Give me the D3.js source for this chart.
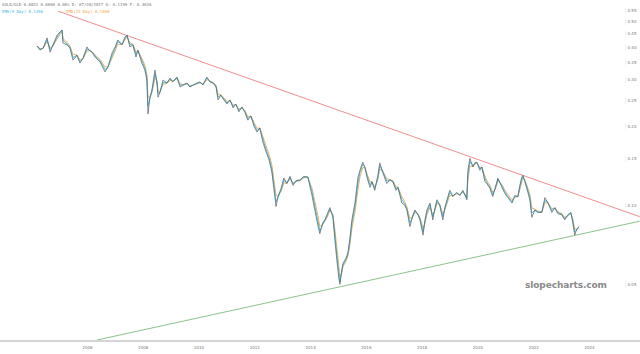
<!DOCTYPE html>
<html>
<head>
<meta charset="utf-8">
<script src="https://cdn.jsdelivr.net/npm/d3@7"></script>
<style>
  body { margin: 0; background: #fff; }
  svg { display: block; }
</style>
</head>
<body>
<div id="chart"></div>
<script>
// GOLD/GLD ratio (decimal year, ratio)
var years = [2004.19,2004.30,2004.41,2004.55,2004.66,2004.76,2004.91,2005.01,2005.09,2005.12,2005.27,2005.37,2005.48,2005.62,2005.73,2005.84,2005.98,
  2006.05,2006.16,2006.27,2006.45,2006.63,2006.73,2006.88,2006.99,2007.09,2007.24,2007.34,2007.42,2007.52,2007.63,2007.74,2007.81,2007.95,
  2008.06,2008.13,2008.17,2008.24,2008.31,2008.42,2008.49,2008.53,2008.60,2008.71,2008.85,2008.96,2009.06,2009.21,2009.32,2009.42,2009.57,2009.67,2009.78,2009.92,
  2010.03,2010.14,2010.28,2010.39,2010.50,2010.61,2010.68,2010.78,2010.89,2011.00,2011.11,2011.22,2011.32,2011.43,2011.54,2011.65,2011.75,2011.86,2011.97,
  2012.08,2012.18,2012.29,2012.40,2012.51,2012.61,2012.68,2012.76,2012.83,2012.94,2013.04,2013.15,2013.26,2013.37,2013.47,2013.62,2013.76,2013.90,
  2014.05,2014.15,2014.26,2014.33,2014.44,2014.51,2014.62,2014.69,2014.80,2014.87,2014.94,2015.01,2015.05,2015.12,2015.16,2015.27,2015.34,2015.41,2015.48,2015.59,2015.70,2015.77,2015.87,2015.95,
  2016.02,2016.13,2016.20,2016.30,2016.41,2016.48,2016.59,2016.73,2016.84,2016.95,2017.06,2017.13,2017.27,2017.38,2017.45,2017.56,2017.67,2017.74,2017.85,2017.92,
  2018.03,2018.10,2018.17,2018.28,2018.38,2018.46,2018.53,2018.63,2018.74,2018.81,2018.89,2018.99,2019.10,2019.24,2019.35,2019.46,2019.57,2019.60,2019.64,2019.71,2019.82,2019.89,2019.96,
  2020.07,2020.14,2020.25,2020.32,2020.43,2020.53,2020.61,2020.68,2020.71,2020.86,2020.96,2021.07,2021.22,2021.32,2021.43,2021.50,2021.57,2021.61,2021.68,2021.75,2021.86,2021.93,
  2022.04,2022.15,2022.29,2022.40,2022.51,2022.65,2022.76,2022.86,2023.01,2023.11,2023.22,2023.33,2023.40,2023.47,2023.54,2023.62];
var ratio = [.404,.390,.397,.434,.383,.408,.445,.457,.465,.415,.408,.397,.357,.373,.348,.364,.401,
  .390,.383,.367,.351,.322,.336,.380,.401,.426,.408,.437,.445,.401,.408,.367,.390,.348,
  .327,.300,.223,.258,.275,.327,.292,.258,.270,.300,.292,.305,.295,.308,.282,.287,.292,.282,.287,.292,
  .295,.287,.308,.295,.292,.282,.252,.263,.252,.243,.252,.235,.243,.227,.237,.225,.211,.219,.200,
  .190,.197,.174,.160,.149,.134,.116,.099,.108,.116,.127,.121,.129,.119,.124,.125,.129,.128,
  .109,.096,.084,.078,.086,.088,.094,.098,.090,.074,.062,.053,.050,.057,.060,.063,.066,.075,.088,.102,.128,.136,.146,.139,
  .128,.117,.123,.114,.130,.145,.133,.121,.125,.123,.114,.117,.102,.100,.096,.083,.092,.096,.092,.088,
  .077,.088,.096,.102,.088,.098,.105,.100,.088,.098,.105,.114,.108,.112,.109,.114,.107,.105,.136,.151,.140,.145,.146,
  .136,.140,.123,.121,.116,.108,.116,.123,.127,.117,.111,.107,.102,.109,.108,.119,.128,.130,.123,.116,.105,.090,
  .096,.094,.094,.107,.102,.094,.098,.093,.092,.088,.092,.094,.086,.077,.081,.083];

// trendlines: [start year, start ratio], [end year, end ratio]
var upperTrend = [[2004.94, 0.549], [2025.80, 0.0905]];
var lowerTrend = [[2006.34, 0.0307], [2025.80, 0.0870]];

var yTicks = [0.55, 0.50, 0.45, 0.40, 0.35, 0.30, 0.25, 0.20, 0.15, 0.10, 0.05];
var xTicks = [2006, 2008, 2010, 2012, 2014, 2016, 2018, 2020, 2022, 2024];

var headerLine = "GOLD/GLD 0.0822 0.0000 0.00% D: 07/20/2017 O: 0.1199 F: 0.4026";
var ema9Label = "EMA(9 Day) 0.1296";
var ema21Label = "EMA(21 Day) 0.1300";

function toDate(y) {
    var yr = Math.floor(y);
    var start = new Date(yr, 0, 1), end = new Date(yr + 1, 0, 1);
    return new Date(start.getTime() + (y - yr) * (end - start));
}

// simple per-sample exponential smoothing for the two EMA overlays
function ema(vals, a) {
    var out = [], prev = vals[0];
    vals.forEach(function(v) { prev = a * v + (1 - a) * prev; out.push(prev); });
    return out;
}

function init() {
    var w = 640, h = 354;
    var plotBottom = 340;

    var svg = d3.select("#chart").append("svg")
        .attr("width", w).attr("height", h);

    var x = d3.scaleTime()
        .domain([toDate(2006), toDate(2024)])
        .range([87.5, 589.5]);

    var y = d3.scaleLog()
        .domain([0.0307, 0.605])
        .range([plotBottom, 0]);

    svg.append("clipPath").attr("id", "plot")
       .append("rect").attr("x", 0).attr("y", 0).attr("width", w).attr("height", plotBottom);

    var series = years.map(function(d, i) { return {date: toDate(d), v: ratio[i]}; });
    var e9 = ema(ratio, 0.8), e21 = ema(ratio, 0.62);

    var line = d3.line().x(function(d) { return x(d.date); }).y(function(d) { return y(d.v); });

    // x axis base line
    svg.append("line")
       .attr("x1", 0).attr("x2", w)
       .attr("y1", plotBottom + 1).attr("y2", plotBottom + 1)
       .attr("stroke", "#d4d4d4").attr("stroke-width", 2);

    svg.selectAll(".xlab")
       .data(xTicks).enter().append("text")
       .attr("x", function(d) { return x(toDate(d)); })
       .attr("y", 349)
       .attr("text-anchor", "middle")
       .style("font-family", "DejaVu Sans, sans-serif")
       .style("font-size", "4px")
       .style("fill", "#777")
       .text(function(d) { return d; });

    // y labels on the right
    var yl = svg.selectAll(".ylab").data(yTicks).enter().append("g")
       .attr("transform", function(d) { return "translate(0," + y(d) + ")"; });
    yl.append("line")
       .attr("x1", 625.5).attr("x2", 625.5).attr("y1", -3).attr("y2", 3)
       .attr("stroke", "#e4e4e4").attr("stroke-width", 0.6);
    yl.append("text")
       .attr("x", 632).attr("y", 1.4)
       .attr("text-anchor", "middle")
       .style("font-family", "DejaVu Sans, sans-serif")
       .style("font-size", "4px")
       .style("fill", "#777")
       .text(function(d) { return d.toFixed(2); });

    // watermark
    svg.append("text")
       .attr("x", 525).attr("y", 287.5)
       .attr("textLength", 82)
       .style("font-family", "DejaVu Sans, sans-serif")
       .style("font-weight", "bold")
       .style("font-size", "9px")
       .style("fill", "#8a8a8a")
       .text("slopecharts.com");

    var g = svg.append("g").attr("clip-path", "url(#plot)");

    // trendlines
    function trend(pts, color) {
        g.append("line")
         .attr("x1", x(toDate(pts[0][0]))).attr("y1", y(pts[0][1]))
         .attr("x2", x(toDate(pts[1][0]))).attr("y2", y(pts[1][1]))
         .attr("stroke", color).attr("stroke-width", 0.8);
    }
    trend(upperTrend, "#ec7070");
    trend(lowerTrend, "#6cb46c");

    // EMA overlays, then the ratio itself
    g.append("path")
     .datum(series.map(function(d, i) { return {date: d.date, v: e21[i]}; }))
     .attr("d", line).attr("fill", "none")
     .attr("stroke", "#f2a748").attr("stroke-width", 0.9);
    g.append("path")
     .datum(series.map(function(d, i) { return {date: d.date, v: e9[i]}; }))
     .attr("d", line).attr("fill", "none")
     .attr("stroke", "#3cb7e2").attr("stroke-width", 0.9);
    g.append("path")
     .datum(series)
     .attr("d", line).attr("fill", "none")
     .attr("stroke", "#56666b").attr("stroke-width", 0.75)
     .attr("stroke-linejoin", "round");

    // header legend
    var mono = "DejaVu Sans Mono, monospace";
    svg.append("text")
       .attr("x", 2).attr("y", 6)
       .style("font-family", mono).style("font-size", "4px").style("fill", "#777")
       .text(headerLine);
    svg.append("text")
       .attr("x", 2).attr("y", 12.5)
       .style("font-family", mono).style("font-size", "4px").style("fill", "#3cb4e0")
       .text(ema9Label);
    svg.append("text")
       .attr("x", 66).attr("y", 12.5)
       .style("font-family", mono).style("font-size", "4px").style("fill", "#f0a040")
       .text(ema21Label);
}

window.onload = init;
</script>
</body>
</html>
